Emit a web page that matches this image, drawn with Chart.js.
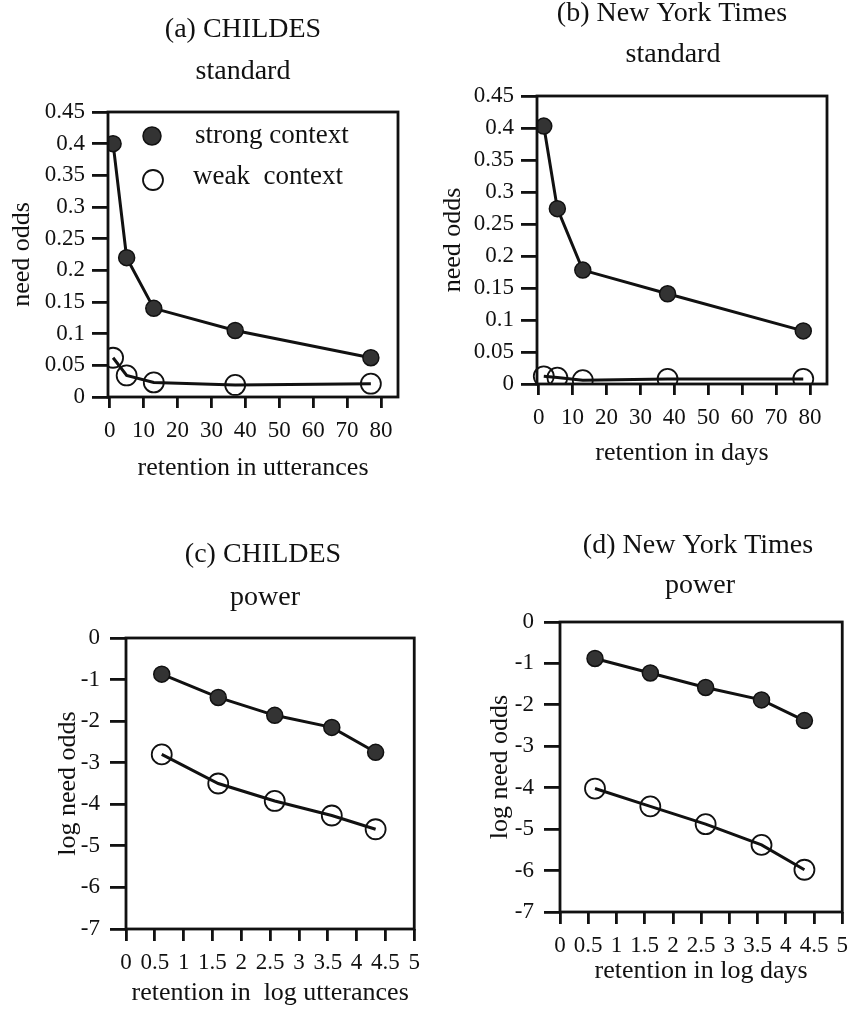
<!DOCTYPE html>
<html>
<head>
<meta charset="utf-8">
<script src="https://cdn.jsdelivr.net/npm/chart.js@4.4.1/dist/chart.umd.min.js"></script>
<style>
  html, body { margin: 0; padding: 0; background: #fff; overflow: hidden; }
  #page { position: relative; width: 856px; height: 1016px; }
  canvas { position: absolute; }
</style>
</head>
<body>
<div id="page">
  <canvas id="chartA" width="428" height="508" style="left:0;top:0"></canvas>
  <canvas id="chartB" width="428" height="508" style="left:428px;top:0"></canvas>
  <canvas id="chartC" width="428" height="508" style="left:0;top:508px"></canvas>
  <canvas id="chartD" width="428" height="508" style="left:428px;top:508px"></canvas>
</div>
<script>
// retention values (x)
const childesRetention = [1, 5, 13, 37, 77];
const nytRetention = [1.5, 5.5, 13, 38, 78];
const logRetention = [0.62, 1.6, 2.58, 3.57, 4.33];

// need odds (y)
const childesStrong = [0.40, 0.22, 0.14, 0.105, 0.062];
const childesWeak = [0.062, 0.034, 0.023, 0.019, 0.021];
const nytStrong = [0.403, 0.274, 0.178, 0.141, 0.083];
const nytWeak = [0.012, 0.01, 0.006, 0.008, 0.008];
const childesLogStrong = [-0.87, -1.43, -1.86, -2.15, -2.75];
const childesLogWeak = [-2.8, -3.5, -3.92, -4.27, -4.6];
const nytLogStrong = [-0.88, -1.23, -1.58, -1.88, -2.38];
const nytLogWeak = [-4.02, -4.45, -4.88, -5.38, -5.98];

// ticks
const xTicksStd = [0, 10, 20, 30, 40, 50, 60, 70, 80];
const xLabelsStd = ['0', '10', '20', '30', '40', '50', '60', '70', '80'];
const yTicksStd = [0, 0.05, 0.1, 0.15, 0.2, 0.25, 0.3, 0.35, 0.4, 0.45];
const yLabelsStd = ['0', '0.05', '0.1', '0.15', '0.2', '0.25', '0.3', '0.35', '0.4', '0.45'];
const xTicksLog = [0, 0.5, 1, 1.5, 2, 2.5, 3, 3.5, 4, 4.5, 5];
const xLabelsLog = ['0', '0.5', '1', '1.5', '2', '2.5', '3', '3.5', '4', '4.5', '5'];
const yTicksLog = [-7, -6, -5, -4, -3, -2, -1, 0];
const yLabelsLog = ['-7', '-6', '-5', '-4', '-3', '-2', '-1', '0'];

const ink = '#111';
Chart.defaults.font.family = '"Liberation Serif", "Times New Roman", serif';
Chart.defaults.color = ink;

const frame = {
  id: 'frame',
  afterDatasetsDraw(chart) {
    const { ctx, chartArea: a } = chart;
    ctx.save();
    ctx.strokeStyle = ink;
    ctx.lineWidth = 2.8;
    ctx.strokeRect(a.left, a.top, a.right - a.left, a.bottom - a.top);
    ctx.restore();
  }
};

const headings = {
  id: 'headings',
  afterDraw(chart, args, opts) {
    const ctx = chart.ctx;
    ctx.save();
    ctx.fillStyle = ink;
    ctx.font = '28px "Liberation Serif"';
    ctx.textAlign = 'center';
    ctx.textBaseline = 'alphabetic';
    (opts.lines || []).forEach(l => ctx.fillText(l.text, l.x, l.y));
    ctx.restore();
  }
};

const boxLegend = {
  id: 'boxLegend',
  afterDraw(chart, args, opts) {
    if (!opts.rows) return;
    const ctx = chart.ctx;
    ctx.save();
    chart.data.datasets.forEach((ds, i) => {
      const r = opts.rows[i];
      ctx.beginPath();
      ctx.arc(r.sx, r.y, r.r, 0, Math.PI * 2);
      ctx.fillStyle = ds.pointBackgroundColor;
      ctx.fill();
      ctx.lineWidth = ds.pointBorderWidth;
      ctx.strokeStyle = ds.pointBorderColor;
      ctx.stroke();
      ctx.fillStyle = ink;
      ctx.font = '27px "Liberation Serif"';
      ctx.textAlign = 'left';
      ctx.textBaseline = 'alphabetic';
      ctx.fillText(ds.label, r.tx, r.ty);
    });
    ctx.restore();
  }
};

function series(label, xs, ys, filled, clip) {
  const ds = {
    label: label,
    data: xs.map((x, i) => ({ x: x, y: ys[i] })),
    showLine: true,
    borderColor: ink,
    borderWidth: 3,
    pointRadius: filled ? 8 : 10,
    pointBackgroundColor: filled ? '#333' : 'rgba(0,0,0,0)',
    pointBorderColor: ink,
    pointBorderWidth: filled ? 1.5 : 1.8
  };
  if (clip) ds.clip = clip;
  return ds;
}

function makeScale(o) {
  return {
    type: 'linear',
    min: o.min,
    max: o.max,
    afterBuildTicks: s => { s.ticks = o.ticks.map(v => ({ value: v })); },
    afterFit: s => {
      if (o.width) s.width = o.width;
      if (o.height) s.height = o.height;
    },
    ticks: {
      autoSkip: false, maxRotation: 0, minRotation: 0,
      padding: o.pad, font: { size: 23 }, color: ink,
      callback: (v, i) => o.labels[i]
    },
    grid: { drawOnChartArea: false, drawTicks: true, tickLength: o.tl, color: ink, lineWidth: 2.8 },
    border: { display: false },
    title: { display: true, text: o.title, font: { size: 26 }, color: ink, padding: { top: 0, bottom: 0 } }
  };
}

function makePanel(id, p) {
  return new Chart(document.getElementById(id), {
    type: 'scatter',
    data: { datasets: p.datasets },
    options: {
      responsive: false,
      animation: false,
      layout: { padding: p.padding },
      plugins: {
        legend: { display: false },
        tooltip: { enabled: false },
        headings: { lines: p.headings },
        boxLegend: { rows: p.legend }
      },
      scales: { x: p.x, y: p.y }
    },
    plugins: [frame, headings, boxLegend]
  });
}

makePanel('chartA', {
  datasets: [
    series('strong context', childesRetention, childesStrong, true),
    series('weak  context', childesRetention, childesWeak, false)
  ],
  padding: { top: 112, left: 7, right: 30, bottom: 24 },
  headings: [{ text: '(a) CHILDES', x: 243, y: 37 }, { text: 'standard', x: 243, y: 79 }],
  legend: [{ sx: 152, y: 136, r: 9, tx: 195, ty: 143 }, { sx: 153, y: 180, r: 10, tx: 193, ty: 184 }],
  x: makeScale({ min: -0.5, max: 85, ticks: xTicksStd, labels: xLabelsStd, tl: 11, pad: 9, height: 87, title: 'retention in utterances' }),
  y: makeScale({ min: 0, max: 0.45, ticks: yTicksStd, labels: yLabelsStd, tl: 16, pad: 7, width: 101, title: 'need odds' })
});

makePanel('chartB', {
  datasets: [
    series('strong context', nytRetention, nytStrong, true),
    series('weak context', nytRetention, nytWeak, false, { left: false, top: false, right: false, bottom: 1 })
  ],
  padding: { top: 96, left: 10, right: 29, bottom: 39 },
  headings: [{ text: '(b) New York Times', x: 244, y: 21 }, { text: 'standard', x: 245, y: 62 }],
  x: makeScale({ min: -0.5, max: 85, ticks: xTicksStd, labels: xLabelsStd, tl: 11, pad: 9, height: 85, title: 'retention in days' }),
  y: makeScale({ min: 0, max: 0.45, ticks: yTicksStd, labels: yLabelsStd, tl: 16, pad: 7, width: 99, title: 'need odds' })
});

makePanel('chartC', {
  datasets: [
    series('strong context', logRetention, childesLogStrong, true),
    series('weak context', logRetention, childesLogWeak, false)
  ],
  padding: { top: 130, left: 53, right: 10, bottom: 7 },
  headings: [{ text: '(c) CHILDES', x: 263, y: 54 }, { text: 'power', x: 265, y: 97 }],
  x: makeScale({ min: 0, max: 5, ticks: xTicksLog, labels: xLabelsLog, tl: 12, pad: 8, height: 80, title: 'retention in  log utterances' }),
  y: makeScale({ min: -7, max: 0, ticks: yTicksLog, labels: yLabelsLog, tl: 16, pad: 10, width: 73, title: 'log need odds' })
});

makePanel('chartD', {
  datasets: [
    series('strong context', logRetention, nytLogStrong, true),
    series('weak context', logRetention, nytLogWeak, false)
  ],
  padding: { top: 114, left: 57, right: 9, bottom: 29 },
  headings: [{ text: '(d) New York Times', x: 270, y: 45 }, { text: 'power', x: 272, y: 85 }],
  x: makeScale({ min: 0, max: 5, ticks: xTicksLog, labels: xLabelsLog, tl: 12, pad: 8, height: 75, title: 'retention in log days' }),
  y: makeScale({ min: -7, max: 0, ticks: yTicksLog, labels: yLabelsLog, tl: 16, pad: 10, width: 75, title: 'log need odds' })
});
</script>
</body>
</html>
